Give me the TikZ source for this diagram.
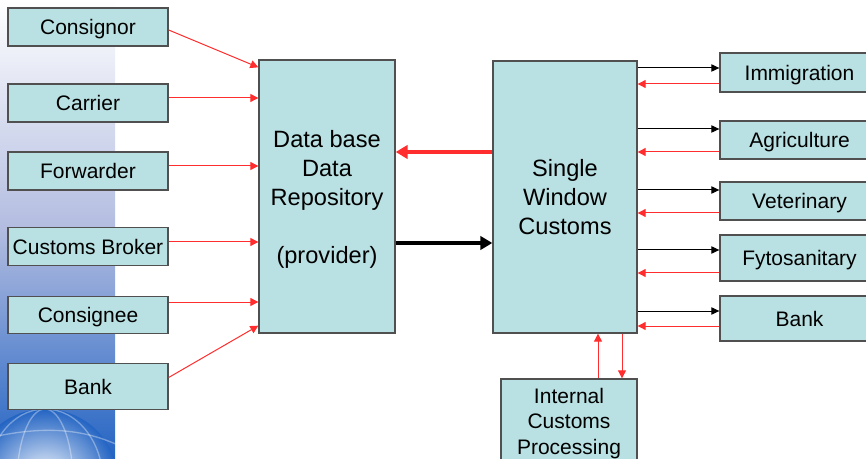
\documentclass[tikz,border=0pt]{standalone}
\usepackage{fontspec}
\setmainfont{Liberation Sans}
\usetikzlibrary{arrows.meta,calc}

\definecolor{boxfill}{RGB}{185,224,226}
\definecolor{boxline}{RGB}{80,80,80}
\definecolor{flowred}{RGB}{255,45,45}
\definecolor{stripblue}{RGB}{35,100,195}
\definecolor{striplav}{RGB}{178,188,224}

\tikzset{
  box/.style={draw=boxline, fill=boxfill, line width=1pt, inner sep=0pt, align=center, text depth=-1.5pt, font=\fontsize{15.75}{19}\selectfont},
  bigbox/.style={box, font=\fontsize{17.7}{21.75}\selectfont},
  redarr/.style={draw=flowred, line width=0.75pt, -{Triangle[length=6pt,width=6pt]}},
  blkarr/.style={draw=black, line width=0.75pt, -{Triangle[length=6pt,width=5.5pt]}},
  thickarr/.style={line width=2.4pt, -{Triangle[length=9pt,width=10pt]}},
}

\begin{document}
\begin{tikzpicture}[x=0.75pt,y=0.75pt,yscale=-1,xscale=1]
\useasboundingbox (0,0) rectangle (866,459);
\clip (0,0) rectangle (866,459);

% backdrop strip with the globe
\shade[top color=white, bottom color=striplav] (0,0) rectangle (115,230);
\shade[top color=striplav, bottom color=stripblue] (0,230) rectangle (115,459);
\begin{scope}
  \clip (0,0) rectangle (115,459);
  \shade[inner color=white, outer color=stripblue] (45,482) circle (73);
  \draw[white, opacity=0.35, line width=1pt] (45,482) ellipse (28 and 73);
  \draw[white, opacity=0.35, line width=1pt] (45,482) ellipse (58 and 73);
  \draw[white, opacity=0.35, line width=1pt] (-20,440) .. controls (40,425) and (80,428) .. (118,445);
\end{scope}

% parties on the left
\draw (88,27) node [box, minimum width=120pt, minimum height=28.5pt] (consignor) {Consignor};
\draw (88,103) node [box, minimum width=120pt, minimum height=28.5pt] (carrier) {Carrier};
\draw (88,171) node [box, minimum width=120pt, minimum height=28.5pt] (forwarder) {Forwarder};
\draw (88,246.5) node [box, minimum width=120pt, minimum height=28.5pt] (broker) {Customs Broker};
\draw (88,315) node [box, minimum width=120pt, minimum height=27.75pt] (consignee) {Consignee};
\draw (88,386.5) node [box, minimum width=120pt, minimum height=34.5pt] (bankL) {Bank};

% the two main blocks
\draw (327,196.5) node [bigbox, minimum width=102pt, minimum height=204.75pt] (repo) {Data base\\Data\\Repository\\[21.75pt](provider)};
\draw (565,197) node [bigbox, minimum width=108pt, minimum height=204pt] (sw) {Single\\Window\\Customs};

% agencies on the right
\draw (799.5,72.5) node [box, minimum width=119.25pt, minimum height=29.25pt] (immig) {Immigration};
\draw (799.5,140) node [box, minimum width=119.25pt, minimum height=28.5pt] (agri) {Agriculture};
\draw (799.5,201) node [box, minimum width=119.25pt, minimum height=28.5pt] (vet) {Veterinary};
\draw (799.5,258) node [box, minimum width=119.25pt, minimum height=34.5pt] (fyto) {Fytosanitary};
\draw (799.5,318.5) node [box, minimum width=119.25pt, minimum height=33.75pt] (bankR) {Bank};

\draw (569,421) node [box, minimum width=102pt, minimum height=63pt, font=\fontsize{15.75}{19.1}\selectfont] (icp) {Internal\\Customs\\Processing};

% feeds into the repository
\draw[redarr] ($(consignor.east)+(0,3)$) -- ($(repo.north west)+(0,8)$);
\draw[redarr] ($(carrier.east)+(0,-5)$) -- ($(carrier.east -| repo.west)+(0,-5)$);
\draw[redarr] ($(forwarder.east)+(0,-5)$) -- ($(forwarder.east -| repo.west)+(0,-5)$);
\draw[redarr] ($(broker.east)+(0,-4.5)$) -- ($(broker.east -| repo.west)+(0,-4.5)$);
\draw[redarr] ($(consignee.east)+(0,-13)$) -- ($(consignee.east -| repo.west)+(0,-13)$);
\draw[redarr] ($(bankL.east)+(0,-9)$) -- ($(repo.south west)+(0,-8)$);

% repository <-> single window
\draw[thickarr, flowred] (sw.west |- 0,152) -- (repo.east |- 0,152);
\draw[thickarr, black] (repo.east |- 0,243) -- (sw.west |- 0,243);

% single window <-> agencies
\draw[blkarr] (sw.east |- 0,68) -- (immig.west |- 0,68);
\draw[redarr] (immig.west |- 0,84) -- (sw.east |- 0,84);
\draw[blkarr] (sw.east |- 0,129) -- (agri.west |- 0,129);
\draw[redarr] (agri.west |- 0,152) -- (sw.east |- 0,152);
\draw[blkarr] (sw.east |- 0,190) -- (vet.west |- 0,190);
\draw[redarr] (vet.west |- 0,213) -- (sw.east |- 0,213);
\draw[blkarr] (sw.east |- 0,250) -- (fyto.west |- 0,250);
\draw[redarr] (fyto.west |- 0,273) -- (sw.east |- 0,273);
\draw[blkarr] (sw.east |- 0,311) -- (bankR.west |- 0,311);
\draw[redarr] (bankR.west |- 0,326) -- (sw.east |- 0,326);

% internal processing
\draw[redarr] (icp.north -| 598,0) -- (sw.south -| 598,0);
\draw[redarr] (sw.south -| 622,0) -- (icp.north -| 622,0);
\end{tikzpicture}
\end{document}
